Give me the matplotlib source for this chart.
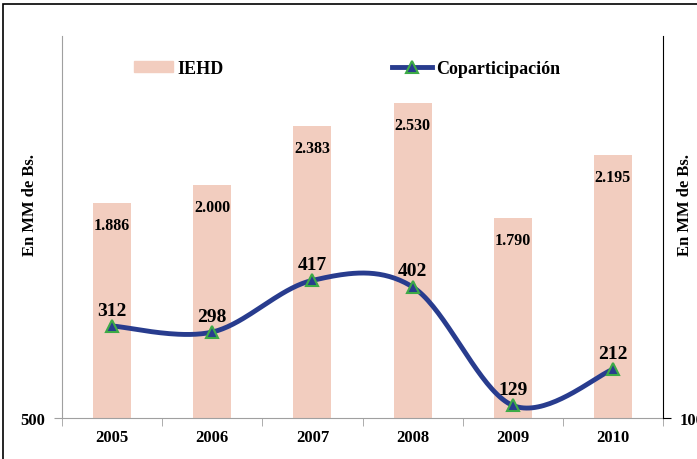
import matplotlib
matplotlib.use("Agg")
import matplotlib.pyplot as plt
from matplotlib.patches import Rectangle
from matplotlib.lines import Line2D
from matplotlib.patches import Patch
import numpy as np

# datos
anios = ["2005", "2006", "2007", "2008", "2009", "2010"]
iehd = [1886, 2000, 2383, 2530, 1790, 2195]
iehd_txt = ["1.886", "2.000", "2.383", "2.530", "1.790", "2.195"]
copart = [312, 298, 417, 402, 129, 212]

color_barra = "#F2CDBF"
color_linea = "#283C8E"
color_borde = "#3DAA47"
plt.rcParams["font.family"] = ["Liberation Serif", "DejaVu Serif"]
plt.rcParams["font.weight"] = "bold"


def suavizar(x, y, n=40):
    # curva suavizada tipo Excel (Catmull-Rom)
    x = np.asarray(x, float)
    y = np.asarray(y, float)
    px = np.concatenate([[x[0]], x, [x[-1]]])
    py = np.concatenate([[y[0]], y, [y[-1]]])
    xs, ys = [], []
    t = np.linspace(0, 1, n)
    for i in range(1, len(px) - 2):
        p0, p1, p2, p3 = (np.array([px[j], py[j]]) for j in range(i - 1, i + 3))
        m1 = (p2 - p0) / 2
        m2 = (p3 - p1) / 2
        h00 = 2 * t**3 - 3 * t**2 + 1
        h10 = t**3 - 2 * t**2 + t
        h01 = -2 * t**3 + 3 * t**2
        h11 = t**3 - t**2
        pts = (np.outer(h00, p1) + np.outer(h10, m1)
               + np.outer(h01, p2) + np.outer(h11, m2))
        xs.extend(pts[:, 0])
        ys.extend(pts[:, 1])
    return np.array(xs), np.array(ys)


fig = plt.figure(figsize=(6.97, 4.6), dpi=100)
ax = fig.add_axes([62 / 697, 41 / 460, 601 / 697, 382 / 460])
ax2 = ax.twinx()

x = np.arange(len(anios))
ax.bar(x, iehd, width=0.38, color=color_barra, zorder=1)
ax.set_xlim(-0.5, len(anios) - 0.5)
ax.set_ylim(500, 2960)
ax.set_yticks([500])
ax.set_yticklabels(["500"], fontsize=12, fontweight="bold")
ax.set_xticks(x)
ax.set_xticklabels(anios, fontsize=12, fontweight="bold")
ax.set_xticks(np.arange(-0.5, len(anios)), minor=True)
ax.tick_params(axis="x", which="major", length=0, pad=8)
ax.tick_params(axis="x", which="minor", length=6, color="#A0A0A0")
ax.tick_params(axis="y", length=6, color="#A0A0A0", pad=6)
for s in ["top", "right"]:
    ax.spines[s].set_visible(False)
ax.spines["left"].set_color("#A0A0A0")
ax.spines["bottom"].set_color("#A0A0A0")
ax.set_ylabel("En MM de Bs.", fontsize=12, fontweight="bold")
ax.yaxis.set_label_coords(-24 / 601, 0.56)

for xi, v, t in zip(x, iehd, iehd_txt):
    ax.annotate(t, (xi, v), xytext=(0, -16), textcoords="offset points",
                ha="center", va="center", fontsize=11.5, fontweight="bold")

xs, ys = suavizar(x, copart)
ax2.plot(xs, ys, color=color_linea, lw=3.5, zorder=3)
ax2.plot(x, copart, ls="none", marker="^", ms=9, mfc=color_linea,
         mec=color_borde, mew=1.5, zorder=4)
ax2.set_ylim(100, 980)
ax2.set_yticks([100])
ax2.set_yticklabels(["100"], fontsize=12, fontweight="bold")
ax2.tick_params(axis="y", length=6, pad=6)
for s in ["top", "left", "bottom"]:
    ax2.spines[s].set_visible(False)
ax2.spines["right"].set_color("black")
ax2.set_ylabel("En MM de Bs.", fontsize=12, fontweight="bold")
ax2.yaxis.set_label_coords(1 + 14 / 601, 0.56)

for xi, v in zip(x, copart):
    ax2.annotate(str(v), (xi, v), xytext=(0, 11.5), textcoords="offset points",
                 ha="center", va="center", fontsize=14, fontweight="bold")

handles = [Patch(color=color_barra),
           Line2D([0], [0], color=color_linea, lw=3.5, marker="^", ms=9,
                  mfc=color_linea, mec=color_borde, mew=1.5)]
ax.legend(handles, ["IEHD", "Coparticipación"], ncol=2, frameon=False,
          loc="center left", bbox_to_anchor=(0.092, 0.915),
          columnspacing=9.3, handlelength=2.2, handleheight=0.6,
          handletextpad=0.25, prop={"weight": "bold", "size": 13})

# marco exterior
fig.patches.append(Rectangle((3 / 697, -0.1), 1.0, 455 / 460 + 0.1,
                             transform=fig.transFigure, fill=False,
                             ec="black", lw=1.2))

fig.savefig("out.png", dpi=100)
